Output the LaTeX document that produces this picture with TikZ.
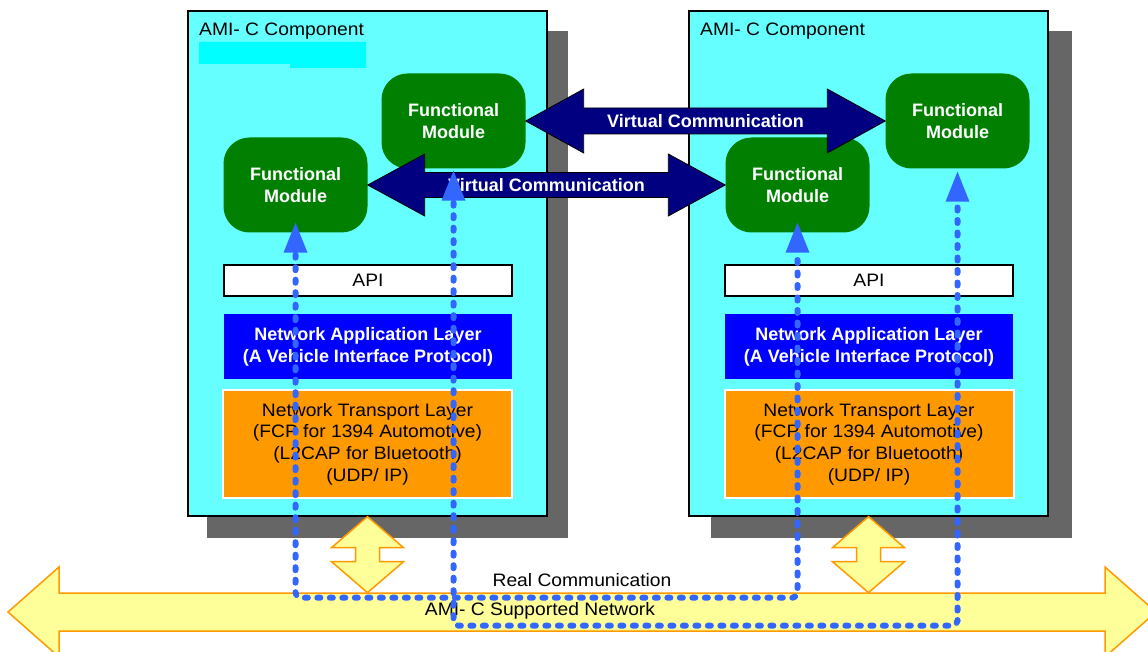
\documentclass[tikz,border=0pt]{standalone}
\usepackage{fontspec}
\setmainfont{Liberation Sans}
\newfontfamily\widefont[FakeStretch=1.07]{Liberation Sans}
\usetikzlibrary{arrows.meta,calc}

\definecolor{compcyan}{HTML}{66FFFF}
\definecolor{stripcyan}{HTML}{00FFFF}
\definecolor{shadowgray}{HTML}{666666}
\definecolor{modgreen}{HTML}{007F00}
\definecolor{virtnavy}{HTML}{000080}
\definecolor{layerblue}{HTML}{0000FF}
\definecolor{transorange}{HTML}{FF9900}
\definecolor{netyellow}{HTML}{FFFF99}
\definecolor{realblue}{HTML}{3366FF}

\begin{document}
\begin{tikzpicture}[x=1pt,y=-1pt,
  comp/.style={draw=black, line width=1.3pt, fill=compcyan, minimum width=359pt,
    minimum height=505pt, inner sep=0pt},
  comptitle/.style={anchor=west, inner sep=0pt, font=\widefont\fontsize{18}{21}\selectfont},
  module/.style={fill=modgreen, rounded corners=26pt, minimum width=144pt,
    minimum height=95pt, inner sep=0pt, align=center, text=white,
    font=\bfseries\fontsize{18}{21.5}\selectfont},
  api/.style={draw=black, line width=1.2pt, fill=white, minimum width=288pt,
    minimum height=31pt, inner sep=0pt, font=\widefont\fontsize{18}{21}\selectfont},
  appl/.style={fill=layerblue, minimum width=288pt, minimum height=65pt, inner sep=0pt,
    align=center, text=white, font=\bfseries\fontsize{18}{22}\selectfont},
  transl/.style={draw=white, line width=2pt, fill=transorange, minimum width=289pt,
    minimum height=108pt, inner sep=0pt, align=center,
    font=\widefont\fontsize{18}{21.7}\selectfont},
  virt/.style={fill=virtnavy, draw=black, line width=0.8pt, line join=miter},
  virtlabel/.style={text=white, inner sep=0pt, font=\bfseries\fontsize{18}{21}\selectfont},
  netarrow/.style={fill=netyellow, draw=transorange, line width=1.5pt, line join=miter},
  netlabel/.style={inner sep=0pt, font=\widefont\fontsize{18}{21}\selectfont},
  realline/.style={draw=realblue, line width=6pt, dash pattern=on 3pt off 9.5pt,
    line cap=round, rounded corners=5pt},
  realtip/.style={fill=realblue, draw=none}
]
\useasboundingbox (0,0) rectangle (1148,652);
\clip (0,0) rectangle (1148,652);

% component boxes with their drop shadows
\node[comp, fill=none, draw=none] (compL) at (367.5,263.5) {};
\node[comp, fill=none, draw=none] (compR) at (868.5,263.5) {};
\fill[shadowgray] ([shift={(20,21)}]compL.north west) rectangle ([shift={(20,21)}]compL.south east);
\fill[shadowgray] ([shift={(23,21)}]compR.north west) rectangle ([shift={(23,21)}]compR.south east);
\node[comp] at (compL) {};
\node[comp] at (compR) {};

% highlight strip under the left title
\fill[stripcyan] (199,42) -- (366,42) -- (366,68) -- (290,68) -- (290,64) -- (199,64) -- cycle;

\node[comptitle] (titleL) at (199,31) {AMI- C Component};
\node[comptitle] (titleR) at (700,31) {AMI- C Component};

% supported network and the links from each component
\coordinate (netL) at (8,612);
\coordinate (netR) at (1156,612);
\draw[netarrow] (netL) -- ++(51,-45) -- ++(0,26) -- ($(netR)+(-51,-19)$) -- ++(0,-26)
  -- (netR) -- ++(-51,45) -- ++(0,-26) -- ($(netL)+(51,19)$) -- ++(0,26) -- cycle;
\foreach \c in {compL,compR}{
  \draw[netarrow] (\c.south) -- ++(36,31) -- ++(-24,0) -- ++(0,14) -- ++(24,0)
    -- ++(-36,31) -- ++(-36,-31) -- ++(24,0) -- ++(0,-14) -- ++(-24,0) -- cycle;
}

% protocol layers
\node[api] (apiL) at (368,280.5) {API};
\node[api] (apiR) at (869,280.5) {API};
\node[appl] (applL) at (368,346.5) {Network Application Layer\\(A Vehicle Interface Protocol)};
\node[appl] (applR) at (869,346.5) {Network Application Layer\\(A Vehicle Interface Protocol)};
\node[transl] (transL) at (367.5,444) {Network Transport Layer\\(FCP for 1394 Automotive)\\(L2CAP for Bluetooth)\\(UDP/ IP)};
\node[transl] (transR) at (869,444) {Network Transport Layer\\(FCP for 1394 Automotive)\\(L2CAP for Bluetooth)\\(UDP/ IP)};

% functional modules
\node[module] (fm1) at (453.5,121) {Functional\\Module};
\node[module] (fm2) at (295.5,185) {Functional\\Module};
\node[module] (fm3) at (797.5,185) {Functional\\Module};
\node[module] (fm4) at (957.5,121) {Functional\\Module};

% virtual communication between modules
\draw[virt] (fm1.east) -- ++(58,-32) -- ++(0,19) -- ($(fm4.west)+(-58,-13)$) -- ++(0,-19)
  -- (fm4.west) -- ++(-58,32) -- ++(0,-19) -- ($(fm1.east)+(58,13)$) -- ++(0,19) -- cycle;
\path (fm1.east) -- (fm4.west) node[midway, virtlabel] (virtU) {Virtual Communication};
\draw[virt] (fm2.east) -- ++(57,-31) -- ++(0,18.5) -- ($(fm3.west)+(-57,-12.5)$) -- ++(0,-18.5)
  -- (fm3.west) -- ++(-57,31) -- ++(0,-18.5) -- ($(fm2.east)+(57,12.5)$) -- ++(0,18.5) -- cycle;
\path (fm2.east) -- (fm3.west) node[midway, virtlabel] (virtD) {Virtual Communication};

% network labels
\node[netlabel] (realtxt) at (582,580) {Real Communication};
\node[netlabel] (nettxt) at (540,611) {AMI- C Supported Network};

% real communication paths through the network, each end a solid head
\draw[realline] ($(fm2.south)+(0,22)$) -- ++(0,343) -| ($(fm3.south)+(0,22)$);
\draw[realline] ($(fm1.south)+(0,34)$) -- ++(0,423) -| ($(fm4.south)+(0,34)$);
\foreach \m/\d in {fm2/-10, fm3/-10, fm1/2, fm4/3}{
  \fill[realtip] ($(\m.south)+(0,\d)$) -- ++(-12,30) -- ++(24,0) -- cycle;
}
\end{tikzpicture}
\end{document}
